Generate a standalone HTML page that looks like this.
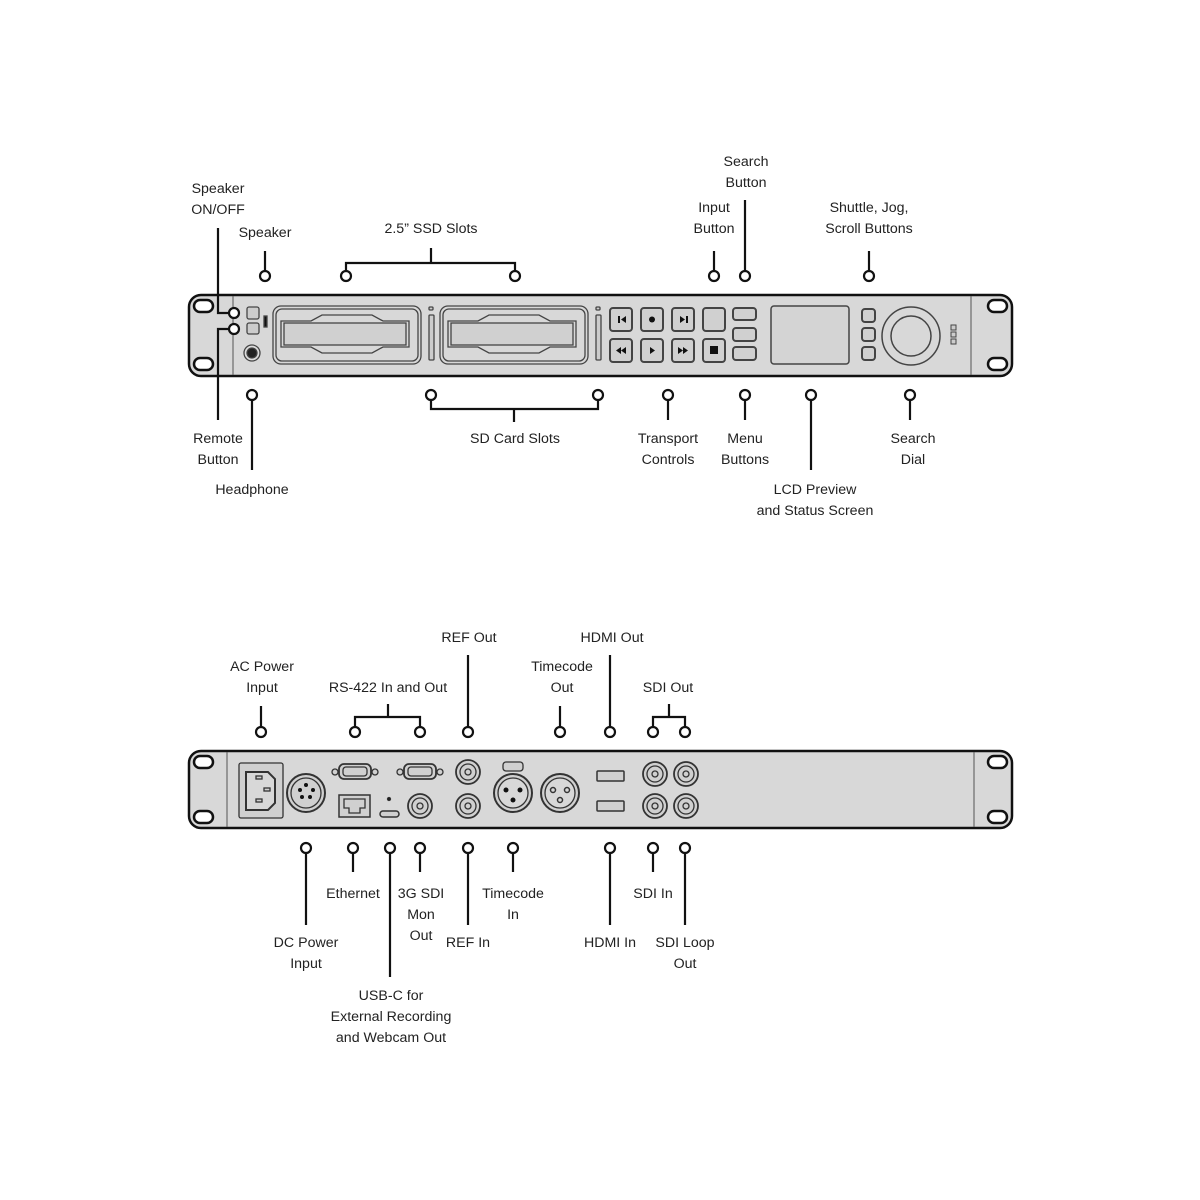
<!DOCTYPE html>
<html><head><meta charset="utf-8"><style>
html,body{margin:0;padding:0;background:#fff;width:1200px;height:1200px;overflow:hidden}
svg{display:block}
text{font-family:"Liberation Sans",sans-serif;font-size:14.2px;fill:#222;text-anchor:middle;dominant-baseline:middle}
</style></head><body>
<svg width="1200" height="1200" viewBox="0 0 1200 1200" xmlns="http://www.w3.org/2000/svg">
<!-- FRONT PANEL -->
<g stroke="#111" fill="#d8d8d8">
<rect x="189" y="295" width="823" height="81" rx="12" stroke-width="2.5"/>
<line x1="233" y1="296" x2="233" y2="375" stroke-width="1" stroke="#555"/>
<line x1="971" y1="296" x2="971" y2="375" stroke-width="1" stroke="#555"/>
<g fill="#fff" stroke-width="2.5">
<rect x="194" y="300" width="19" height="12" rx="6"/><rect x="194" y="358" width="19" height="12" rx="6"/>
<rect x="988" y="300" width="19" height="12" rx="6"/><rect x="988" y="358" width="19" height="12" rx="6"/>
</g>
<g stroke-width="1.3" fill="#ccc" stroke="#444">
<rect x="247" y="307" width="12" height="12" rx="2"/><rect x="247" y="323" width="12" height="11" rx="2"/>
<rect x="264" y="316" width="3" height="11" fill="#111"/>
<circle cx="252" cy="353" r="8" fill="#ddd"/><circle cx="252" cy="353" r="5" fill="#222"/>
<rect x="273" y="306" width="148" height="58" rx="8" fill="#d8d8d8"/><rect x="276" y="309" width="142" height="52" rx="6" fill="#d8d8d8"/>
<path d="M281 321 H311 L322 315 H372 L383 321 H409 V347 H383 L372 353 H322 L311 347 H281 Z" fill="#d8d8d8"/>
<rect x="284" y="323" width="122" height="22" fill="#d0d0d0"/>
<rect x="440" y="306" width="148" height="58" rx="8" fill="#d8d8d8"/><rect x="443" y="309" width="142" height="52" rx="6" fill="#d8d8d8"/>
<path d="M448 321 H478 L489 315 H539 L550 321 H576 V347 H550 L539 353 H489 L478 347 H448 Z" fill="#d8d8d8"/>
<rect x="451" y="323" width="122" height="22" fill="#d0d0d0"/>
<rect x="429" y="315" width="5" height="45" rx="1"/><rect x="596" y="315" width="5" height="45" rx="1"/>
<rect x="429" y="307" width="4" height="3" rx="1"/><rect x="596" y="307" width="4" height="3" rx="1"/>
</g>
<g stroke-width="2" fill="#d0d0d0" stroke="#444">
<rect x="610" y="308" width="22" height="23" rx="3"/><rect x="641" y="308" width="22" height="23" rx="3"/><rect x="672" y="308" width="22" height="23" rx="3"/><rect x="703" y="308" width="22" height="23" rx="3"/>
<rect x="610" y="339" width="22" height="23" rx="3"/><rect x="641" y="339" width="22" height="23" rx="3"/><rect x="672" y="339" width="22" height="23" rx="3"/><rect x="703" y="339" width="22" height="23" rx="3"/>
<rect x="733" y="308" width="23" height="12" rx="3"/><rect x="733" y="328" width="23" height="13" rx="3"/><rect x="733" y="347" width="23" height="13" rx="3"/>
<rect x="862" y="309" width="13" height="13" rx="3"/><rect x="862" y="328" width="13" height="13" rx="3"/><rect x="862" y="347" width="13" height="13" rx="3"/>
</g>
<g fill="#111" stroke="none">
<rect x="618" y="316" width="2" height="7"/><path d="M626 316 L621 319.5 L626 323Z"/>
<circle cx="652" cy="319.5" r="3"/>
<path d="M680 316 L685 319.5 L680 323Z"/><rect x="686" y="316" width="2" height="7"/>
<path d="M621 347 L616 350.5 L621 354Z M626 347 L621 350.5 L626 354Z"/>
<path d="M650 347 L655 350.5 L650 354Z"/>
<path d="M678 347 L683 350.5 L678 354Z M683 347 L688 350.5 L683 354Z"/>
<rect x="710" y="346" width="8" height="8"/>
</g>
<rect x="771" y="306" width="78" height="58" rx="3" stroke-width="1.5" fill="#d4d4d4" stroke="#444"/>
<circle cx="911" cy="336" r="29" stroke-width="1.5" stroke="#444"/><circle cx="911" cy="336" r="20" stroke-width="1.5" stroke="#444"/>
<g stroke-width="1" fill="#ccc" stroke="#444"><rect x="951" y="325" width="5" height="5"/><rect x="951" y="332" width="5" height="5"/><rect x="951" y="339" width="5" height="5"/></g>
</g>

<!-- BACK PANEL -->
<g stroke="#111" fill="#d8d8d8">
<rect x="189" y="751" width="823" height="77" rx="12" stroke-width="2.5"/>
<line x1="227" y1="752" x2="227" y2="827" stroke-width="1" stroke="#555"/>
<line x1="974" y1="752" x2="974" y2="827" stroke-width="1" stroke="#555"/>
<g fill="#fff" stroke-width="2.5">
<rect x="194" y="756" width="19" height="12" rx="6"/><rect x="194" y="811" width="19" height="12" rx="6"/>
<rect x="988" y="756" width="19" height="12" rx="6"/><rect x="988" y="811" width="19" height="12" rx="6"/>
</g>
<g stroke-width="1.3" fill="#d0d0d0" stroke="#333">
<rect x="239" y="763" width="44" height="55" rx="2"/>
<path d="M246 772 H268 L275 779 V803 L268 810 H246 Z" fill="#d8d8d8" stroke-width="2"/>
<rect x="256" y="776" width="6" height="3"/><rect x="264" y="788" width="6" height="3"/><rect x="256" y="799" width="6" height="3"/>
<circle cx="306" cy="793" r="19" stroke-width="2"/><circle cx="306" cy="793" r="15"/>
<g fill="#111" stroke="none"><circle cx="300" cy="790" r="2"/><circle cx="313" cy="790" r="2"/><circle cx="302" cy="797" r="2"/><circle cx="310" cy="797" r="2"/><circle cx="306" cy="785" r="2"/></g>
<rect x="339" y="764" width="32" height="15" rx="5" stroke-width="1.8"/><rect x="343" y="767" width="24" height="9" rx="3"/>
<circle cx="335" cy="772" r="3"/><circle cx="375" cy="772" r="3"/>
<rect x="404" y="764" width="32" height="15" rx="5" stroke-width="1.8"/><rect x="408" y="767" width="24" height="9" rx="3"/>
<circle cx="400" cy="772" r="3"/><circle cx="440" cy="772" r="3"/>
<rect x="339" y="795" width="31" height="22" stroke-width="1.5"/><path d="M344 799 H365 V808 H360 V813 H349 V808 H344 Z"/>
<rect x="380" y="811" width="19" height="6" rx="3" stroke-width="1.5"/><circle cx="389" cy="799" r="1.5" fill="#111"/>
<circle cx="420" cy="806" r="12" stroke-width="1.8"/><circle cx="420" cy="806" r="8"/><circle cx="420" cy="806" r="3"/>
<circle cx="468" cy="772" r="12" stroke-width="1.8"/><circle cx="468" cy="772" r="8"/><circle cx="468" cy="772" r="3"/>
<circle cx="468" cy="806" r="12" stroke-width="1.8"/><circle cx="468" cy="806" r="8"/><circle cx="468" cy="806" r="3"/>
<rect x="503" y="762" width="20" height="9" rx="3"/>
<circle cx="513" cy="793" r="19" stroke-width="2"/><circle cx="513" cy="793" r="15" fill="#d8d8d8"/>
<g fill="#111" stroke="none"><circle cx="506" cy="790" r="2.5"/><circle cx="520" cy="790" r="2.5"/><circle cx="513" cy="800" r="2.5"/></g>
<circle cx="560" cy="793" r="19" stroke-width="2"/><circle cx="560" cy="793" r="15" fill="#d8d8d8"/>
<g fill="none" stroke-width="1.5"><circle cx="553" cy="790" r="2.5"/><circle cx="567" cy="790" r="2.5"/><circle cx="560" cy="800" r="2.5"/></g>
<rect x="597" y="771" width="27" height="10" rx="1" stroke-width="1.5"/><rect x="597" y="801" width="27" height="10" rx="1" stroke-width="1.5"/>
<circle cx="655" cy="774" r="12" stroke-width="1.8"/><circle cx="655" cy="774" r="8"/><circle cx="655" cy="774" r="3"/>
<circle cx="686" cy="774" r="12" stroke-width="1.8"/><circle cx="686" cy="774" r="8"/><circle cx="686" cy="774" r="3"/>
<circle cx="655" cy="806" r="12" stroke-width="1.8"/><circle cx="655" cy="806" r="8"/><circle cx="655" cy="806" r="3"/>
<circle cx="686" cy="806" r="12" stroke-width="1.8"/><circle cx="686" cy="806" r="8"/><circle cx="686" cy="806" r="3"/>
</g>
</g>

<!-- CALLOUT LINES -->
<g stroke="#111" stroke-width="2.2" fill="none">
<path d="M218 228 V313 H229"/><path d="M218 420 V329 H229"/>
<path d="M265 251 V271"/>
<path d="M431 248 V263 M346 271 V263 H515 V271"/>
<path d="M714 251 V271"/><path d="M745 200 V271"/><path d="M869 251 V271"/>
<path d="M252 400 V470"/>
<path d="M431 400 V409 H598 V400 M514 409 V422"/>
<path d="M668 400 V420"/><path d="M745 400 V420"/><path d="M811 400 V470"/><path d="M910 400 V420"/>
<path d="M261 706 V727"/><path d="M388 704 V717 M355 727 V717 H420 V727"/>
<path d="M468 655 V727"/><path d="M560 706 V727"/><path d="M610 655 V727"/>
<path d="M669 704 V717 M653 727 V717 H685 V727"/>
<path d="M306 853 V925"/><path d="M353 853 V872"/><path d="M390 853 V977"/><path d="M420 853 V872"/>
<path d="M468 853 V925"/><path d="M513 853 V872"/><path d="M610 853 V925"/><path d="M653 853 V872"/><path d="M685 853 V925"/>
</g>
<g stroke="#111" stroke-width="2.2" fill="#fff">
<circle cx="234" cy="313" r="5"/><circle cx="234" cy="329" r="5"/>
<circle cx="265" cy="276" r="5"/><circle cx="346" cy="276" r="5"/><circle cx="515" cy="276" r="5"/>
<circle cx="714" cy="276" r="5"/><circle cx="745" cy="276" r="5"/><circle cx="869" cy="276" r="5"/>
<circle cx="252" cy="395" r="5"/><circle cx="431" cy="395" r="5"/><circle cx="598" cy="395" r="5"/>
<circle cx="668" cy="395" r="5"/><circle cx="745" cy="395" r="5"/><circle cx="811" cy="395" r="5"/><circle cx="910" cy="395" r="5"/>
<circle cx="261" cy="732" r="5"/><circle cx="355" cy="732" r="5"/><circle cx="420" cy="732" r="5"/><circle cx="468" cy="732" r="5"/>
<circle cx="560" cy="732" r="5"/><circle cx="610" cy="732" r="5"/><circle cx="653" cy="732" r="5"/><circle cx="685" cy="732" r="5"/>
<circle cx="306" cy="848" r="5"/><circle cx="353" cy="848" r="5"/><circle cx="390" cy="848" r="5"/><circle cx="420" cy="848" r="5"/>
<circle cx="468" cy="848" r="5"/><circle cx="513" cy="848" r="5"/><circle cx="610" cy="848" r="5"/><circle cx="653" cy="848" r="5"/><circle cx="685" cy="848" r="5"/>
</g>

<!-- LABELS -->
<text x="218" y="189">Speaker</text><text x="218" y="210">ON/OFF</text>
<text x="265" y="233">Speaker</text>
<text x="431" y="229">2.5” SSD Slots</text>
<text x="746" y="162">Search</text><text x="746" y="183">Button</text>
<text x="714" y="208">Input</text><text x="714" y="229">Button</text>
<text x="869" y="208">Shuttle, Jog,</text><text x="869" y="229">Scroll Buttons</text>
<text x="218" y="439">Remote</text><text x="218" y="460">Button</text>
<text x="252" y="490">Headphone</text>
<text x="515" y="439">SD Card Slots</text>
<text x="668" y="439">Transport</text><text x="668" y="460">Controls</text>
<text x="745" y="439">Menu</text><text x="745" y="460">Buttons</text>
<text x="815" y="490">LCD Preview</text><text x="815" y="511">and Status Screen</text>
<text x="913" y="439">Search</text><text x="913" y="460">Dial</text>

<text x="262" y="667">AC Power</text><text x="262" y="688">Input</text>
<text x="388" y="688">RS-422 In and Out</text>
<text x="469" y="638">REF Out</text>
<text x="562" y="667">Timecode</text><text x="562" y="688">Out</text>
<text x="612" y="638">HDMI Out</text>
<text x="668" y="688">SDI Out</text>
<text x="306" y="943">DC Power</text><text x="306" y="964">Input</text>
<text x="353" y="894">Ethernet</text>
<text x="391" y="996">USB-C for</text><text x="391" y="1017">External Recording</text><text x="391" y="1038">and Webcam Out</text>
<text x="421" y="894">3G SDI</text><text x="421" y="915">Mon</text><text x="421" y="936">Out</text>
<text x="468" y="943">REF In</text>
<text x="513" y="894">Timecode</text><text x="513" y="915">In</text>
<text x="610" y="943">HDMI In</text>
<text x="653" y="894">SDI In</text>
<text x="685" y="943">SDI Loop</text><text x="685" y="964">Out</text>
</svg>
</body></html>
